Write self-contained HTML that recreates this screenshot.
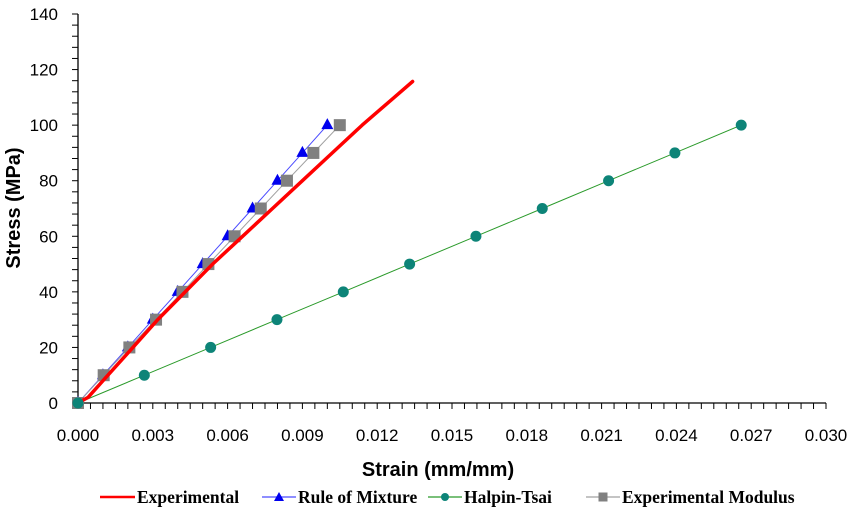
<!DOCTYPE html>
<html><head><meta charset="utf-8"><style>
html,body{margin:0;padding:0;background:#fff;}
svg{display:block;}
.tick{font-family:"Liberation Sans Narrow","Liberation Sans",sans-serif;font-size:17px;fill:#000;}
.title{font-family:"Liberation Sans",sans-serif;font-size:20px;font-weight:bold;fill:#000;}
.leg{font-family:"Liberation Serif",serif;font-size:17.5px;font-weight:bold;fill:#000;}
</style></head><body>
<svg id="chart" width="856" height="510"></svg>
<script>
const xTicks=["0.000","0.003","0.006","0.009","0.012","0.015","0.018","0.021","0.024","0.027","0.030"];
const yTicks=["0","20","40","60","80","100","120","140"];
const expStrain=[0,0.0004,0.0012,0.0022,0.0032,0.0043,0.0054,0.0066,0.0078,0.0090,0.0102,0.0114,0.01268,0.01342];
const expStress=[0,2,10,20,30,40,50,60,70,80,90,100,110,115.7];
const romStrain=[0,0.001,0.002,0.003,0.004,0.005,0.006,0.007,0.008,0.009,0.010];
const romStress=[0,10,20,30,40,50,60,70,80,90,100];
const htStrain=[0,0.00266,0.00532,0.00798,0.01064,0.0133,0.01596,0.01862,0.02128,0.02394,0.0266];
const htStress=[0,10,20,30,40,50,60,70,80,90,100];
const emStrain=[0,0.00103,0.00206,0.00313,0.00419,0.00523,0.00628,0.00733,0.00838,0.00944,0.0105];
const emStress=[0,10,20,30,40,50,60,70,80,90,100];

const NS="http://www.w3.org/2000/svg";
const svg=document.getElementById('chart');
const X0=78,X1=826,Y0=403,Y1=14;
const xs=v=>X0+(v/0.030)*(X1-X0);
const ys=v=>Y0-(v/140)*(Y0-Y1);
function mk(tag,attrs,parent){const e=document.createElementNS(NS,tag);for(const k in attrs)e.setAttribute(k,attrs[k]);(parent||svg).appendChild(e);return e;}

const axes=mk('g',{});


mk('line',{x1:X0,y1:Y0,x2:X1,y2:Y0,stroke:'#000','stroke-width':1.3},axes);
mk('line',{x1:X0,y1:Y0,x2:X0,y2:Y1,stroke:'#000','stroke-width':1.3},axes);
for(let i=0;i<=60;i++){const x=xs(i*0.0005);mk('line',{x1:x,y1:Y0,x2:x,y2:Y0+6,stroke:'#000'},axes);}
for(let i=0;i<=35;i++){const y=ys(i*4);mk('line',{x1:X0-6,y1:y,x2:X0,y2:y,stroke:'#000'},axes);}
xTicks.forEach(t=>{const e=mk('text',{x:xs(parseFloat(t)),y:441,'text-anchor':'middle',class:'tick'},axes);e.textContent=t;

});
yTicks.forEach(t=>{const e=mk('text',{x:58,y:ys(+t)+6,'text-anchor':'end',class:'tick'},axes);e.textContent=t;

});
const xt=mk('text',{x:438,y:476,'text-anchor':'middle',class:'title'});xt.textContent='Strain (mm/mm)';


const yt=mk('text',{x:0,y:0,'text-anchor':'middle',class:'title',transform:'translate(20,208) rotate(-90)'});yt.textContent='Stress (MPa)';



function line(xa,ya,color,w,name){const p=xa.map((v,i)=>xs(v).toFixed(1)+','+ys(ya[i]).toFixed(1)).join(' ');
const e=mk('polyline',{points:p,fill:'none',stroke:color,'stroke-width':w,'stroke-linejoin':'round','stroke-linecap':'round'});

}
function marker(type,x,y,color){
 if(type==='tri')return mk('polygon',{points:`${x},${y-7} ${x-6},${y+4} ${x+6},${y+4}`,fill:color});
 if(type==='circ')return mk('circle',{cx:x,cy:y,r:5.5,fill:color});
 return mk('rect',{x:x-6,y:y-6,width:12,height:12,fill:color});}
line(htStrain,htStress,'#2a9a2a',1,'halpin-tsai-line');
htStrain.forEach((v,i)=>{const m=marker('circ',xs(v),ys(htStress[i]),'#0d8478');

});
line(romStrain,romStress,'#4a4aff',1,'rule-of-mixture-line');
romStrain.forEach((v,i)=>{const m=marker('tri',xs(v),ys(romStress[i]),'#0000ee');

});
line(emStrain,emStress,'#a0a0a0',1,'experimental-modulus-line');
emStrain.forEach((v,i)=>{const m=marker('sq',xs(v),ys(emStress[i]),'#808080');

});
line(expStrain,expStress,'#ff0000',3.5,'experimental-line');
marker('circ',xs(0),ys(0),'#0d8478');

const lg=mk('g',{});


const items=[['Experimental','#ff0000',null,100,137],['Rule of Mixture','#4a4aff','tri',262,298],['Halpin-Tsai','#2a9a2a','circ',428,464],['Experimental Modulus','#a0a0a0','sq',586,622]];
items.forEach(([t,c,m,x1,tx])=>{
 mk('line',{x1:x1,y1:497,x2:tx-2,y2:497,stroke:c,'stroke-width':m?1.3:2.5},lg);
 if(m){const cx=(x1+tx-2)/2;
  if(m==='tri')mk('polygon',{points:`${cx},492 ${cx-5},501 ${cx+5},501`,fill:'#0000ee'},lg);
  if(m==='circ')mk('circle',{cx:cx,cy:497,r:4,fill:'#0d8478'},lg);
  if(m==='sq')mk('rect',{x:cx-4.5,y:492.5,width:9,height:9,fill:'#808080'},lg);}
 const e=mk('text',{x:tx,y:503,class:'leg'},lg);e.textContent=t;
 
 
});
</script>
</body></html>
